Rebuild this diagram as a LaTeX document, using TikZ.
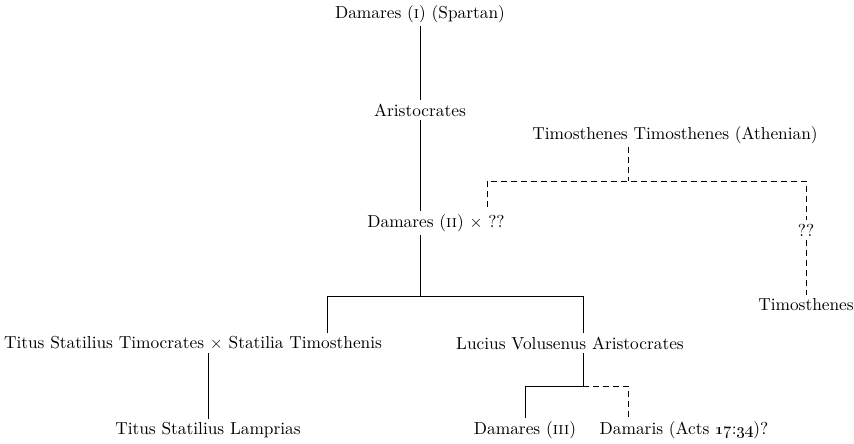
\documentclass[tikz,border=0pt]{standalone}
\usepackage{tikz}
\usetikzlibrary{calc,positioning}
\tikzstyle{person}=[inner sep=2pt,font=\fontsize{10.4}{12.5}\selectfont]
\tikzstyle{line}=[line width=0.6pt]
\tikzstyle{maybe}=[line width=0.6pt,dash pattern=on 3.6pt off 2.4pt]

\begin{document}
\begin{tikzpicture}[x=0.6pt,y=-0.6pt]
		\useasboundingbox (0,0) rectangle (854,443);

		% first generations
		\node(d1)[person] at (420,14) {Damares (\textsc{i}) (Spartan)};
		\node(ar)[person] at (420,110) {Aristocrates};
		\node(d2)[person] at (436,223) {Damares (\textsc{ii}) $\times$ ??};

		% athenian side
		\node(tm)[person] at (675,135) {Timosthenes Timosthenes (Athenian)};
		\node(qq)[person] at (806,230) {??};
		\node(ti)[person] at (806,305) {Timosthenes};

		% children of Damares (II)
		\node(ts)[person] at (193,343) {Titus Statilius Timocrates $\times$ Statilia Timosthenis};
		\node(lv)[person] at (570,343) {Lucius Volusenus Aristocrates};
		\node(tl)[person] at (208,430) {Titus Statilius Lamprias};
		\node(d3)[person] at (525,430) {Damares (\textsc{iii})};
		\node(dm)[person] at (684,430) {Damaris (Acts \oldstylenums{17}:\oldstylenums{34})?};

		\coordinate(j1) at (420,296);
		\coordinate(l1) at (327,296);
		\coordinate(r1) at (583,296);
		\coordinate(j2) at (583,386);
		\coordinate(k2) at (628,386);
		\coordinate(j3) at (628,181);
		\coordinate(l3) at (487,181);
		\coordinate(r3) at (806,181);

		\draw[line] (d1) -- (ar);
		\draw[line] (ar) -- (ar |- d2.north);
		\draw[line] (ar |- d2.south) -- (j1);
		\draw[line] (l1 |- ts.north) -- (l1) -- (r1) -- (r1 |- lv.north);
		\draw[line] (ts.south -| tl) -- (tl);
		\draw[line] (r1 |- lv.south) -- (j2) -- (j2 -| d3) -- (d3);
		\draw[maybe] (j2) -- (k2) -- (k2 |- dm.north);

		\draw[maybe] (j3 |- tm.south) -- (j3);
		\draw[maybe] ($(l3 |- d2.north)+(0,-4)$) -- (l3) -- (r3) -- (qq);
		\draw[maybe] (qq) -- (ti);

\end{tikzpicture}
\end{document}
